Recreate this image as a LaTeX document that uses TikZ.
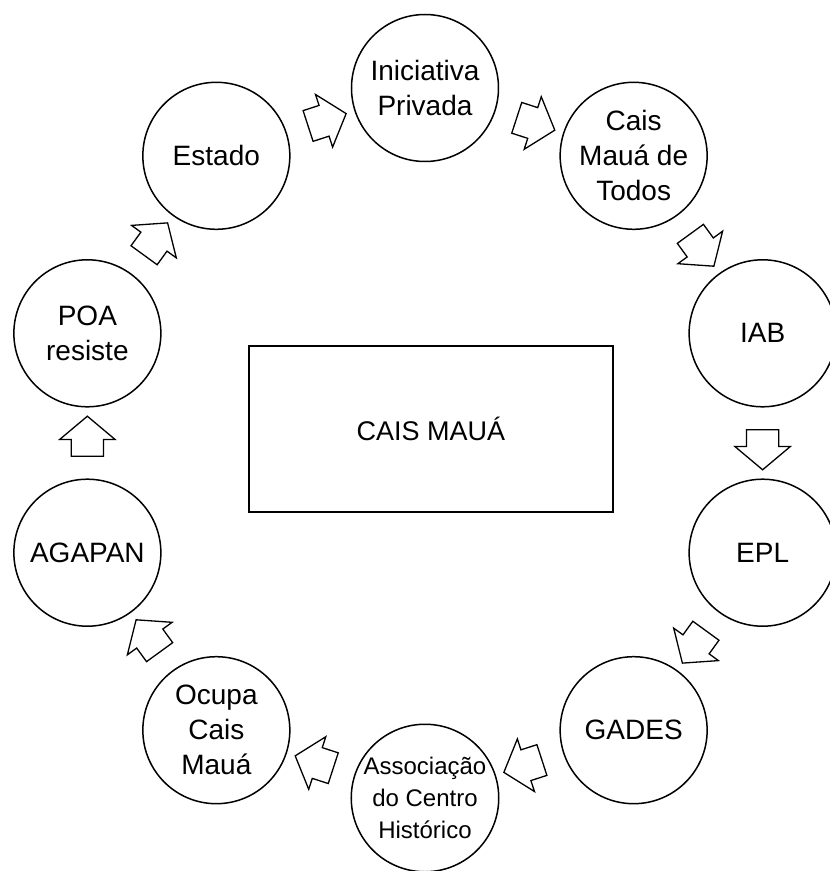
\documentclass[tikz,border=0pt]{standalone}
\usepackage{fontspec}
\setmainfont{Liberation Sans}
\usetikzlibrary{shapes.arrows,calc}

\tikzset{
  actor/.style={circle,draw,line width=1.5pt,minimum size=147pt,inner sep=0pt,
    align=center,font=\fontsize{28}{35}\selectfont},
  flow/.style={single arrow,draw,line width=1.3pt,minimum height=40pt,
    inner xsep=0pt,inner ysep=15.5pt,single arrow head extend=11.5pt,
    single arrow tip angle=100},
}

\begin{document}
\begin{tikzpicture}[x=1pt,y=1pt]
    \useasboundingbox (-425,-428) rectangle (405,443);
    \clip (-425,-428) rectangle (405,443);
    % centre
    \node[draw,line width=1.8pt,minimum width=364pt,minimum height=166pt,
      font=\fontsize{27}{33}\selectfont] (cais) at (6,14) {CAIS MAUÁ};
    % ring of actors
    \node[actor] (iniciativa) at (90:355) {Iniciativa\\Privada};
    \node[actor] (caistodos) at (54:355) {Cais\\Mauá de\\Todos};
    \node[actor] (iab) at (18:355) {IAB};
    \node[actor] (epl) at (-18:355) {EPL};
    \node[actor] (gades) at (-54:355) {GADES};
    \node[actor,font=\fontsize{24}{32}\selectfont] (associacao) at (-90:355) {Associação\\do Centro\\Histórico};
    \node[actor] (ocupa) at (-126:355) {Ocupa\\Cais\\Mauá};
    \node[actor] (agapan) at (-162:355) {AGAPAN};
    \node[actor] (poa) at (162:355) {POA\\resiste};
    \node[actor] (estado) at (126:355) {Estado};
    % arrows
    \node[flow,rotate=-18] (f1) at ($(iniciativa)!0.5!(caistodos)$) {};
    \node[flow,rotate=-54] (f2) at ($(caistodos)!0.5!(iab)$) {};
    \node[flow,rotate=-90] (f3) at ($(iab)!0.5!(epl)$) {};
    \node[flow,rotate=-126] (f4) at ($(epl)!0.5!(gades)$) {};
    \node[flow,rotate=-162] (f5) at ($(gades)!0.5!(associacao)$) {};
    \node[flow,rotate=162] (f6) at ($(associacao)!0.5!(ocupa)$) {};
    \node[flow,rotate=126] (f7) at ($(ocupa)!0.5!(agapan)$) {};
    \node[flow,rotate=90] (f8) at ($(agapan)!0.5!(poa)$) {};
    \node[flow,rotate=54] (f9) at ($(poa)!0.5!(estado)$) {};
    \node[flow,rotate=18] (f10) at ($(estado)!0.5!(iniciativa)$) {};
\end{tikzpicture}
\end{document}
